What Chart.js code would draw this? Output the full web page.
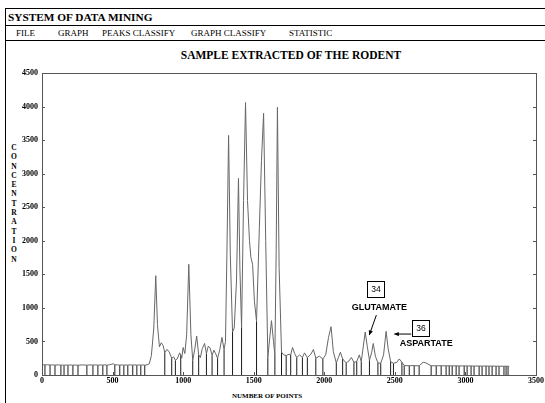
<!DOCTYPE html>
<html>
<head>
<meta charset="utf-8">
<script src="https://cdn.jsdelivr.net/npm/chart.js@4.4.0/dist/chart.umd.min.js"></script>
<style>
  html,body{margin:0;padding:0;background:#fff;}
  body{width:545px;height:403px;overflow:hidden;position:relative;font-family:"Liberation Serif","DejaVu Serif",serif;color:#000;}
  .abs{position:absolute;white-space:nowrap;}
  #frame{left:5px;top:8px;width:560px;height:420px;border:1px solid #000;}
  .hline{position:absolute;left:5px;width:545px;height:0;border-top:1px solid #000;}
  #sys{left:8px;top:9px;font-weight:bold;font-size:11.3px;line-height:16px;}
  .menu{top:27px;font-size:9px;line-height:12px;}
  #ctitle{left:0;width:582px;text-align:center;top:48px;font-weight:bold;font-size:11.5px;line-height:14px;}
  #ytitle{left:9px;top:143px;width:10px;text-align:center;font-weight:bold;font-size:7.5px;line-height:9.3px;white-space:normal;}
  #xtitle{left:0;width:534px;text-align:center;top:392px;font-weight:bold;font-size:7px;line-height:9px;}
  canvas{position:absolute;left:0;top:0;}
</style>
</head>
<body>
<div id="frame" class="abs"></div>
<div class="abs" id="sys">SYSTEM OF DATA MINING</div>
<div class="hline" style="top:25px"></div>
<div class="abs menu" style="left:16px">FILE</div>
<div class="abs menu" style="left:58px">GRAPH</div>
<div class="abs menu" style="left:102px">PEAKS CLASSIFY</div>
<div class="abs menu" style="left:191px">GRAPH CLASSIFY</div>
<div class="abs menu" style="left:289px">STATISTIC</div>
<div class="hline" style="top:40px"></div>
<div class="abs" id="ctitle">SAMPLE EXTRACTED OF THE RODENT</div>
<div class="abs" id="ytitle">C<br>O<br>N<br>C<br>E<br>N<br>T<br>R<br>A<br>T<br>I<br>O<br>N</div>
<div class="abs" id="xtitle">NUMBER OF POINTS</div>
<canvas id="c" width="545" height="403"></canvas>
<script>
// ---- data ----
const pointX = [0,21,40,57,75,92,115,134,145,156,170,184,200,219,237,255,285,318,340,361,380,396,415,431,445,460,478,495,505,516,535,551,565,580,595,608,625,643,658,672,686,700,715,728,745,760,775,792,806,818,832,845,858,870,884,900,919,933,945,958,975,983,990,1000,1012,1025,1040,1055,1068,1082,1096,1110,1122,1135,1152,1165,1178,1192,1205,1218,1230,1244,1260,1275,1290,1300,1310,1322,1334,1350,1362,1378,1392,1402,1414,1428,1442,1456,1470,1480,1492,1505,1520,1540,1555,1570,1585,1600,1612,1626,1640,1650,1659,1668,1680,1697,1712,1730,1750,1762,1775,1790,1805,1825,1845,1860,1880,1905,1923,1940,1965,1990,2010,2030,2048,2064,2085,2100,2114,2130,2155,2175,2192,2210,2230,2248,2262,2276,2290,2305,2320,2335,2347,2362,2380,2400,2420,2438,2452,2470,2490,2515,2531,2550,2566,2602,2637,2672,2700,2720,2757,2793,2828,2863,2885,2906,2934,2955,2991,3012,3040,3061,3097,3118,3146,3167,3189,3217,3238,3273,3288,3302,3310];
const concentration = [155,150,153,148,151,147,151,146,149,145,149,146,150,146,149,145,151,146,150,147,151,146,150,147,151,146,152,162,168,152,151,147,151,146,150,146,151,147,151,146,150,147,151,146,152,165,290,700,1480,750,420,480,440,330,380,350,250,270,220,240,330,300,250,410,320,600,1650,600,220,380,580,300,260,390,470,320,430,400,290,370,320,250,380,560,380,500,1800,3570,1800,640,700,1400,2930,1600,700,2600,4060,2600,2000,1750,1650,1100,800,2200,3200,3900,2000,260,520,810,500,300,1800,3990,1600,340,300,290,310,300,410,320,260,300,260,330,260,310,380,250,280,240,300,560,720,350,180,260,340,240,180,210,260,190,200,300,200,420,640,420,220,330,470,280,180,175,300,650,400,200,175,190,240,190,140,138,140,136,190,180,138,137,138,136,137,135,137,134,136,134,135,133,134,132,134,132,133,131,132,130,131,130,130];
// positions (number of points) where a vertical separator is dropped to zero
const dropX = [21,57,92,134,156,184,219,255,318,361,396,431,460,516,551,580,608,643,672,700,728,870,919,945,983,1068,1110,1165,1205,1244,1290,1350,1414,1520,1600,1650,1697,1730,1762,1805,1845,1880,1940,1990,2085,2130,2155,2210,2230,2262,2320,2380,2400,2470,2490,2550,2566,2602,2637,2672,2757,2793,2828,2863,2885,2906,2934,2955,2991,3012,3040,3061,3097,3118,3146,3167,3189,3217,3238,3273,3288,3302];
const xTickValues = [0,500,1000,1500,2000,2500,3000,3500];
const yTickValues = [0,500,1000,1500,2000,2500,3000,3500,4000,4500];
// annotations: [label, x, y]
const peakBoxes = [["34",2369,1265],["36",2687,684]];
const peakNames = [["GLUTAMATE",2390,1012],["ASPARTATE",2722,476]];
const arrows = [[2369,893,2319,595],[2616,610,2496,610]];

const curve = pointX.map((x,i)=>({x:x,y:concentration[i]}));
const drops = [];
dropX.forEach(x=>{
  const i = pointX.indexOf(x);
  drops.push({x:x,y:0},{x:x,y:concentration[i]},{x:x,y:null});
});

const frame = {
  id:'frame',
  afterDatasetsDraw(chart){
    const {ctx, chartArea:a, scales:{x,y}} = chart;
    ctx.save();
    ctx.strokeStyle='#555'; ctx.lineWidth=1;
    ctx.strokeRect(Math.round(a.left)+0.5, Math.round(a.top)+0.5, Math.round(a.right-a.left), Math.round(a.bottom-a.top));
    ctx.beginPath();
    yTickValues.forEach(v=>{
      const py = Math.round(y.getPixelForValue(v))+0.5;
      if(v===0||v===4500) return;
      ctx.moveTo(a.left, py); ctx.lineTo(a.left+3, py);
      ctx.moveTo(a.right, py); ctx.lineTo(a.right-3, py);
    });
    xTickValues.forEach(v=>{
      const px = Math.round(x.getPixelForValue(v))+0.5;
      ctx.moveTo(px, a.bottom); ctx.lineTo(px, a.bottom-3);
    });
    ctx.stroke();
    // annotations
    ctx.strokeStyle='#000'; ctx.fillStyle='#000';
    ctx.textAlign='center'; ctx.textBaseline='middle';
    ctx.font='8.5px "Liberation Sans", Arial, sans-serif';
    peakBoxes.forEach(([t,vx,vy])=>{
      const px=Math.round(x.getPixelForValue(vx)), py=Math.round(y.getPixelForValue(vy));
      ctx.strokeRect(px-8.5, py-8.5, 17, 16);
      ctx.fillText(t, px, py);
    });
    ctx.font='bold 9px "Liberation Sans", Arial, sans-serif';
    peakNames.forEach(([t,vx,vy])=>{
      ctx.fillText(t, x.getPixelForValue(vx), y.getPixelForValue(vy));
    });
    arrows.forEach(([x1,y1,x2,y2])=>{
      const p1x=x.getPixelForValue(x1), p1y=y.getPixelForValue(y1);
      const p2x=x.getPixelForValue(x2), p2y=y.getPixelForValue(y2);
      ctx.beginPath(); ctx.moveTo(p1x,p1y); ctx.lineTo(p2x,p2y); ctx.stroke();
      const ang=Math.atan2(p2y-p1y,p2x-p1x), L=5;
      ctx.beginPath();
      ctx.moveTo(p2x,p2y);
      ctx.lineTo(p2x-L*Math.cos(ang-0.45), p2y-L*Math.sin(ang-0.45));
      ctx.lineTo(p2x-L*Math.cos(ang+0.45), p2y-L*Math.sin(ang+0.45));
      ctx.closePath(); ctx.fill();
    });
    ctx.restore();
  }
};

const tickFont = {family:'"Liberation Serif", serif', size:8, weight:'bold'};
const plainLabel = v => String(v);
new Chart(document.getElementById('c'), {
  type:'scatter',
  data:{datasets:[
    {data:curve, showLine:true, borderColor:'#666', borderWidth:1, pointRadius:0, tension:0},
    {data:drops, showLine:true, spanGaps:false, borderColor:'#1a1a1a', borderWidth:1, pointRadius:0, tension:0}
  ]},
  options:{
    responsive:false, animation:false, events:[],
    layout:{padding:{left:0,right:8,top:73,bottom:0}},
    plugins:{legend:{display:false}, tooltip:{enabled:false}, title:{display:false}},
    scales:{
      x:{type:'linear', min:0, max:3500,
         afterBuildTicks:s=>{s.ticks=xTickValues.map(v=>({value:v}));},
         afterFit:s=>{s.height=28;},
         grid:{display:false, drawTicks:false}, border:{display:false},
         ticks:{font:tickFont, color:'#000', padding:1, maxRotation:0, autoSkip:false, callback:plainLabel}},
      y:{type:'linear', min:0, max:4500,
         afterBuildTicks:s=>{s.ticks=yTickValues.map(v=>({value:v}));},
         afterFit:s=>{s.width=42;},
         grid:{display:false, drawTicks:false}, border:{display:false},
         ticks:{font:tickFont, color:'#000', padding:4, autoSkip:false, callback:plainLabel}}
    }
  },
  plugins:[frame]
});
</script>
</body>
</html>
